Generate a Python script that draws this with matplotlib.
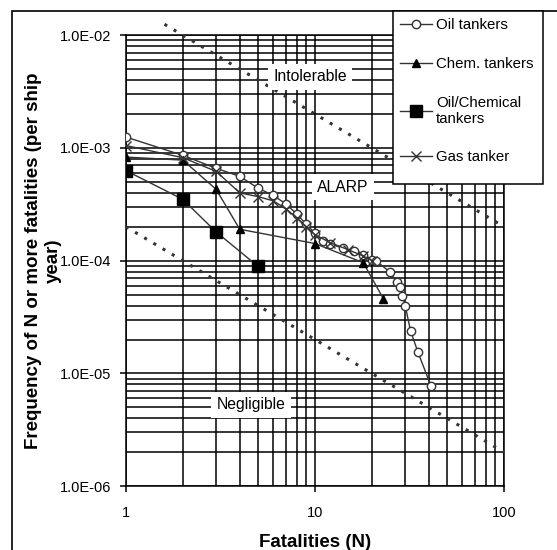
import numpy as np
import matplotlib
matplotlib.use("Agg")
from matplotlib import pyplot as plt
from matplotlib.ticker import LogLocator, FuncFormatter, NullFormatter
from matplotlib.patches import Rectangle

plt.rcParams['font.family'] = ['Liberation Sans', 'DejaVu Sans']

# F-N curves
oil_n = [1, 2, 3, 4, 5, 6, 7, 8, 9, 10, 11, 12, 14, 16, 18, 20, 21, 25, 27, 28, 29, 30, 32, 35, 41]
oil_f = [1.25e-3, 8.6e-4, 6.6e-4, 5.6e-4, 4.4e-4, 3.8e-4, 3.2e-4, 2.6e-4, 2.1e-4, 1.75e-4,
         1.5e-4, 1.4e-4, 1.3e-4, 1.22e-4, 1.12e-4, 1.02e-4, 1.0e-4, 7.9e-5, 6.5e-5, 5.8e-5,
         4.9e-5, 4.0e-5, 2.4e-5, 1.55e-5, 7.8e-6]

chem_n = [1, 2, 3, 4, 10, 18, 23]
chem_f = [8.3e-4, 7.8e-4, 4.3e-4, 1.9e-4, 1.42e-4, 9.6e-5, 4.6e-5]

oilchem_n = [1, 2, 3, 5]
oilchem_f = [6.3e-4, 3.5e-4, 1.8e-4, 8.9e-5]

gas_n = [1, 2, 3, 4, 5, 6, 7, 8, 9, 10, 12, 15, 18, 20]
gas_f = [1.05e-3, 8.2e-4, 6.2e-4, 4.0e-4, 3.7e-4, 3.4e-4, 2.9e-4, 2.4e-4, 2.0e-4, 1.7e-4,
         1.45e-4, 1.25e-4, 1.1e-4, 1.0e-4]

# risk criterion lines
upper_n = [1.6, 100]
upper_f = [1.25e-2, 2e-4]
lower_n = [1, 100]
lower_f = [2e-4, 2e-6]

W, H = 557, 550
fig = plt.figure(figsize=(W / 100, H / 100), dpi=100)
ax = fig.add_axes([0.226, 0.116, 0.679, 0.820])

ax.set_xscale('log')
ax.set_yscale('log')
ax.set_xlim(1, 100)
ax.set_ylim(1e-6, 1e-2)

ax.xaxis.set_minor_locator(LogLocator(base=10, subs=np.arange(2, 10)))
ax.yaxis.set_minor_locator(LogLocator(base=10, subs=np.arange(2, 10)))
ax.xaxis.set_minor_formatter(NullFormatter())
ax.yaxis.set_minor_formatter(NullFormatter())
ax.xaxis.set_major_formatter(FuncFormatter(lambda v, p: f"{v:g}"))
ax.yaxis.set_major_formatter(FuncFormatter(lambda v, p: f"{v:.1E}"))
ax.grid(True, which='both', color='black', linewidth=1.1)
ax.set_axisbelow(True)
ax.tick_params(which='minor', length=0)
ax.tick_params(which='major', length=4.5, width=1.1, labelsize=10.5, direction='out', pad=6)
ax.tick_params(axis='x', pad=10)
for s in ax.spines.values():
    s.set_linewidth(1.1)

ax.plot(upper_n, upper_f, color='#333333', linestyle=(0, (1, 2.5)), linewidth=2.2, zorder=3,
        clip_on=False)
ax.plot(lower_n, lower_f, color='#333333', linestyle=(0, (1, 2.5)), linewidth=2.2, zorder=3)

lc = '#333333'
ax.plot(oil_n, oil_f, color=lc, lw=1, marker='o', mfc='white', mec=lc, ms=6, label='Oil tankers', zorder=4)
ax.plot(chem_n, chem_f, color=lc, lw=1, marker='^', mfc='black', mec='black', ms=6, label='Chem. tankers', zorder=4)
ax.plot(oilchem_n, oilchem_f, color=lc, lw=1, marker='s', mfc='black', mec='black', ms=8.5,
        label='Oil/Chemical\ntankers', zorder=4)
ax.plot(gas_n, gas_f, color=lc, lw=1, marker='x', mec=lc, ms=7, label='Gas tanker', zorder=4)

box = dict(facecolor='white', edgecolor='none', pad=4)
ax.text(9.4, 4.3e-3, 'Intolerable', fontsize=11.3, ha='center', va='center', bbox=box, zorder=5)
ax.text(14.1, 4.5e-4, 'ALARP', fontsize=11.3, ha='center', va='center', bbox=box, zorder=5)
ax.text(4.6, 5.3e-6, 'Negligible', fontsize=11.3, ha='center', va='center', bbox=box, zorder=5)

ax.set_xlabel('Fatalities (N)', fontsize=13.5, fontweight='bold', labelpad=10)
ax.set_ylabel('Frequency of N or more fatalities (per ship\nyear)', fontsize=13.5,
              fontweight='bold')
ax.yaxis.set_label_coords(-0.17, 0.5)

# legend box (white, framed) with the legend entries drawn on top of it
fig.add_artist(Rectangle((393 / W, 1 - 184 / H), 150 / W, 173 / H, transform=fig.transFigure,
                         facecolor='white', edgecolor='black', linewidth=1.1, zorder=5))
handles, labels = ax.get_legend_handles_labels()
leg = fig.legend(handles, labels, loc='upper left', bbox_to_anchor=(393 / W, 1 - 11 / H),
                 bbox_transform=fig.transFigure, fontsize=10.8, frameon=False,
                 labelspacing=1.65, handlelength=2.1, handletextpad=0.3, borderpad=0.47,
                 borderaxespad=0)
leg.set_zorder(6)

# outer frame of the figure, running off the right and bottom edges
fig.add_artist(Rectangle((12 / W, -0.1), 1.2, 1 - 11 / H + 0.1, transform=fig.transFigure,
                         fill=False, edgecolor='black', linewidth=1.2, clip_on=False))

fig.savefig('out.png', dpi=100)
